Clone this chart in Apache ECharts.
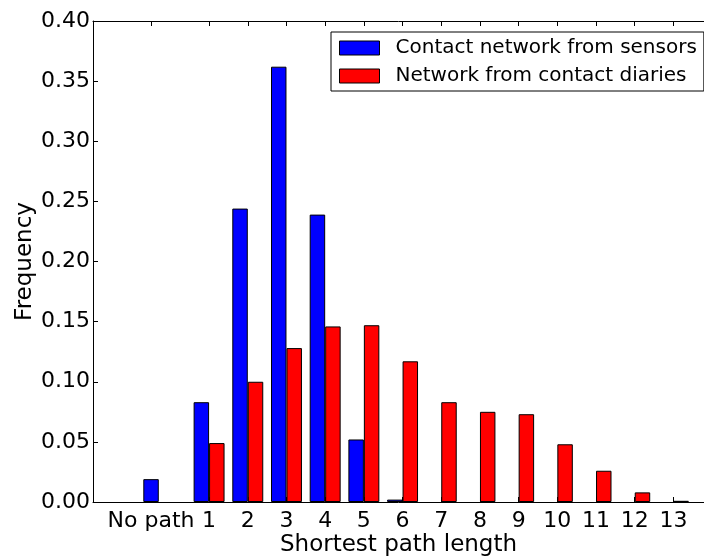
<!DOCTYPE html>
<html>
<head>
<meta charset="utf-8">
<script src="https://cdn.jsdelivr.net/npm/echarts@6/dist/echarts.min.js"></script>
<style>
html,body{margin:0;padding:0;background:#fff;}
#c{width:704px;height:559px;}
</style>
</head>
<body>
<div id="c"></div>
<script>
// Data
const positions = [-0.3, 1, 2, 3, 4, 5, 6, 7, 8, 9, 10, 11, 12, 13];
const sensorValues = [0.019, 0.083, 0.244, 0.362, 0.239, 0.052, 0.002, 0, 0, 0, 0, 0, 0, 0];
const diaryValues  = [0, 0.049, 0.100, 0.128, 0.146, 0.147, 0.117, 0.083, 0.075, 0.073, 0.048, 0.026, 0.008, 0.001];
const tickPositions = [-0.5, 1, 2, 3, 4, 5, 6, 7, 8, 9, 10, 11, 12, 13];
const tickLabels = ['No path', '1', '2', '3', '4', '5', '6', '7', '8', '9', '10', '11', '12', '13'];
const seriesNames = ['Contact network from sensors', 'Network from contact diaries'];

const FONT = 'DejaVu Sans';
const chart = echarts.init(document.getElementById('c'), null, {renderer: 'canvas'});

const labelMap = {};
tickPositions.forEach((p, i) => { labelMap[p.toFixed(2)] = tickLabels[i]; });

const xMin = -2, xMax = 13.79;
const axisLine = {show: true, onZero: false, lineStyle: {color: '#000', width: 1}};
const toPoints = vals => positions.map((p, i) => vals[i] === 0 ? [p, '-'] : [p, vals[i]]);

chart.setOption({
  animation: false,
  backgroundColor: '#fff',
  grid: {left: 93, right: 0, top: 21, bottom: 57, containLabel: false, outerBoundsMode: 'none'},
  legend: {
    orient: 'vertical',
    left: 331, top: 32,
    backgroundColor: '#fff',
    borderColor: '#000', borderWidth: 1, borderRadius: 0,
    padding: [6, 7, 5, 8],
    itemWidth: 40, itemHeight: 14, itemGap: 8,
    icon: 'rect',
    itemStyle: {borderColor: '#000', borderWidth: 1},
    textStyle: {fontFamily: FONT, fontSize: 20, color: '#000', padding: [0, 0, 0, 11], lineHeight: 20},
    data: seriesNames
  },
  xAxis: [{
    type: 'value', position: 'bottom', min: xMin, max: xMax,
    name: 'Shortest path length', nameLocation: 'middle', nameGap: 32,
    nameMoveOverlap: false,
    nameTextStyle: {fontFamily: FONT, fontSize: 23, color: '#000'},
    axisLine: axisLine,
    splitLine: {show: false},
    axisTick: {show: true, inside: true, length: 5, customValues: tickPositions, lineStyle: {color: '#000'}},
    axisLabel: {
      show: true, margin: 8, fontFamily: FONT, fontSize: 22, color: '#000',
      customValues: tickPositions,
      formatter: v => labelMap[Number(v).toFixed(2)] || ''
    }
  }, {
    type: 'value', position: 'top', min: xMin, max: xMax,
    axisLine: axisLine,
    splitLine: {show: false},
    axisTick: {show: true, inside: true, length: 5, customValues: tickPositions, lineStyle: {color: '#000'}},
    axisLabel: {show: false}
  }],
  yAxis: [{
    type: 'value', min: 0, max: 0.4, interval: 0.05,
    name: 'Frequency', nameLocation: 'middle', nameGap: 56, nameRotate: 90,
    nameMoveOverlap: false,
    nameTextStyle: {fontFamily: FONT, fontSize: 23, color: '#000'},
    axisLine: axisLine,
    splitLine: {show: false},
    axisTick: {show: true, inside: true, length: 5, lineStyle: {color: '#000'}},
    axisLabel: {margin: 3, fontFamily: FONT, fontSize: 22, color: '#000', formatter: v => v.toFixed(2)}
  }],
  series: [{
    name: seriesNames[0], type: 'bar', xAxisIndex: 0,
    barWidth: 15.47, barGap: '0%',
    itemStyle: {color: '#0000ff', borderColor: '#000', borderWidth: 1},
    data: toPoints(sensorValues)
  }, {
    name: seriesNames[1], type: 'bar', xAxisIndex: 0,
    barWidth: 15.47, barGap: '0%',
    itemStyle: {color: '#ff0000', borderColor: '#000', borderWidth: 1},
    data: toPoints(diaryValues)
  }]
});
</script>
</body>
</html>
